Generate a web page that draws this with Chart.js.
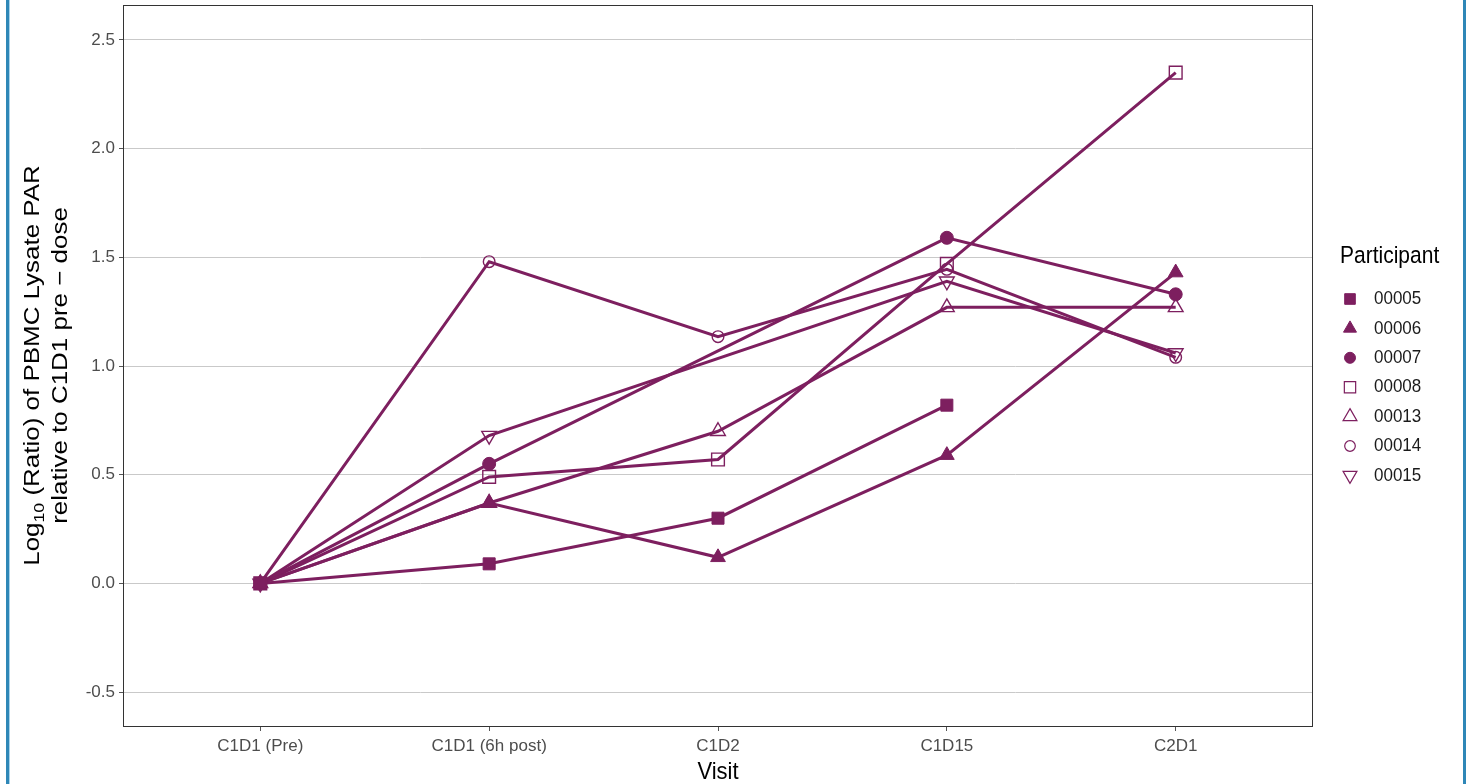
<!DOCTYPE html>
<html>
<head>
<meta charset="utf-8">
<script src="https://cdn.jsdelivr.net/npm/chart.js@4/dist/chart.umd.min.js"></script>
<style>
  html, body { margin: 0; padding: 0; background: #ffffff; overflow: hidden; }
  canvas { display: block; }
</style>
</head>
<body>
<canvas id="c" width="1466" height="784"></canvas>
<script>
// Visits along the x axis
const visits = ['C1D1 (Pre)', 'C1D1 (6h post)', 'C1D2', 'C1D15', 'C2D1'];

// Participants and their log10 ratios per visit (null = not collected)
const participants = ['00005', '00006', '00007', '00008', '00013', '00014', '00015'];
const p00005 = [0, 0.09, 0.30, 0.82, null];
const p00006 = [0, 0.37, 0.12, 0.59, 1.43];
const p00007 = [0, 0.55, null, 1.59, 1.33];
const p00008 = [0, 0.49, 0.57, 1.47, 2.35];
const p00013 = [0, 0.37, 0.70, 1.27, 1.27];
const p00014 = [0, 1.48, 1.135, 1.445, 1.04];
const p00015 = [0, 0.68, null, 1.39, 1.06];
const seriesValues = [p00005, p00006, p00007, p00008, p00013, p00014, p00015];

// Y axis tick values
const yTicks = [-0.5, 0.0, 0.5, 1.0, 1.5, 2.0, 2.5];

// Styling
const INK = '#7d1f5f';
const FONT = "'Liberation Sans', Arial, sans-serif";
const markers = [
  { style: 'rect',     filled: true,  r: 8.5, rot: 0,   lr: 7.5 },
  { style: 'triangle', filled: true,  r: 8.5, rot: 0,   lr: 7.5 },
  { style: 'circle',   filled: true,  r: 6.5, rot: 0,   lr: 5.5 },
  { style: 'rect',     filled: false, r: 9,   rot: 0,   lr: 8   },
  { style: 'triangle', filled: false, r: 8.5, rot: 0,   lr: 8   },
  { style: 'circle',   filled: false, r: 5.8, rot: 0,   lr: 5.3 },
  { style: 'triangle', filled: false, r: 8.5, rot: 180, lr: 8   }
];

function toPoints(vals) {
  const pts = [];
  vals.forEach((v, i) => { if (v !== null) pts.push({ x: i, y: v }); });
  return pts;
}

const datasets = [];
participants.forEach((name, i) => {
  // connecting line
  datasets.push({
    label: name + ' line',
    data: toPoints(seriesValues[i]),
    showLine: true,
    borderColor: INK,
    borderWidth: 3,
    pointRadius: 0,
    pointHoverRadius: 0,
    fill: false,
    tension: 0,
    order: 2
  });
});
participants.forEach((name, i) => {
  const m = markers[i];
  datasets.push({
    label: name,
    data: toPoints(seriesValues[i]),
    showLine: false,
    pointStyle: m.style,
    pointRotation: m.rot,
    pointRadius: m.r,
    pointHoverRadius: m.r,
    pointBackgroundColor: m.filled ? INK : 'rgba(0,0,0,0)',
    pointBorderColor: INK,
    pointBorderWidth: m.filled ? 1 : 1.4,
    order: 1
  });
});

// Page background, side rules and the panel frame
const framePlugin = {
  id: 'frame',
  beforeDraw(chart) {
    const ctx = chart.ctx;
    ctx.save();
    ctx.fillStyle = '#ffffff';
    ctx.fillRect(0, 0, chart.width, chart.height);
    ctx.fillStyle = '#2e87b7';
    ctx.fillRect(6, 0, 3, chart.height);
    ctx.fillRect(1463, 0, 3, chart.height);
    ctx.fillStyle = '#a9d3ea';
    ctx.fillRect(9, 0, 1, chart.height);
    ctx.restore();
  },
  afterDraw(chart) {
    const a = chart.chartArea;
    const ctx = chart.ctx;
    ctx.save();
    ctx.strokeStyle = '#333333';
    ctx.lineWidth = 1;
    ctx.strokeRect(Math.round(a.left) + 0.5, Math.round(a.top) + 0.5,
                   Math.round(a.right - a.left) - 1, Math.round(a.bottom - a.top));
    ctx.restore();
  }
};

// Axis titles (y title carries a subscript, so it is set by hand)
const titlesPlugin = {
  id: 'titles',
  afterDraw(chart) {
    const a = chart.chartArea;
    const ctx = chart.ctx;
    const cy = (a.top + a.bottom) / 2;
    const f = 22, stretch = 1.18;
    ctx.save();
    ctx.fillStyle = '#000000';
    ctx.textBaseline = 'middle';

    // line 1: Log10 (Ratio) of PBMC Lysate PAR
    const big = f + 'px ' + FONT, small = Math.round(f * 0.7) + 'px ' + FONT;
    ctx.font = big;
    const wLog = ctx.measureText('Log').width;
    const wRest = ctx.measureText(' (Ratio) of PBMC Lysate PAR').width;
    ctx.font = small;
    const wSub = ctx.measureText('10').width;
    const total = wLog + wSub + wRest;
    ctx.save();
    ctx.translate(33, cy);
    ctx.rotate(-Math.PI / 2);
    ctx.scale(stretch, 1);
    ctx.textAlign = 'left';
    const x0 = -total / 2;
    ctx.font = big;
    ctx.fillText('Log', x0, 0);
    ctx.font = small;
    ctx.fillText('10', x0 + wLog, f * 0.3);
    ctx.font = big;
    ctx.fillText(' (Ratio) of PBMC Lysate PAR', x0 + wLog + wSub, 0);
    ctx.restore();

    // line 2
    ctx.save();
    ctx.translate(61, cy);
    ctx.rotate(-Math.PI / 2);
    ctx.scale(stretch, 1);
    ctx.textAlign = 'center';
    ctx.font = big;
    ctx.fillText('relative to C1D1 pre \u2212 dose', 0, 0);
    ctx.restore();

    // x title
    ctx.save();
    ctx.translate((a.left + a.right) / 2, 772);
    ctx.scale(1, 1.12);
    ctx.textAlign = 'center';
    ctx.font = '22px ' + FONT;
    ctx.fillText('Visit', 0, 0);
    ctx.restore();
    ctx.restore();
  }
};

// Legend on the right
const legendPlugin = {
  id: 'participantLegend',
  afterDraw(chart) {
    const ctx = chart.ctx;
    ctx.save();
    ctx.fillStyle = '#000000';
    ctx.textBaseline = 'middle';
    ctx.textAlign = 'left';
    ctx.save();
    ctx.translate(1340, 257);
    ctx.scale(1, 1.12);
    ctx.font = '21px ' + FONT;
    ctx.fillText('Participant', 0, 0);
    ctx.restore();
    participants.forEach((name, i) => {
      const m = markers[i];
      const y = 299 + i * 29.4;
      ctx.save();
      ctx.fillStyle = m.filled ? INK : 'rgba(0,0,0,0)';
      ctx.strokeStyle = INK;
      ctx.lineWidth = m.filled ? 1 : 1.2;
      Chart.helpers.drawPoint(ctx, { pointStyle: m.style, rotation: m.rot, radius: m.lr, borderWidth: ctx.lineWidth }, 1350, y);
      ctx.restore();
      ctx.save();
      ctx.translate(1374, y);
      ctx.scale(1, 1.12);
      ctx.fillStyle = '#1a1a1a';
      ctx.font = '17px ' + FONT;
      ctx.fillText(name, 0, 0);
      ctx.restore();
    });
    ctx.restore();
  }
};

new Chart(document.getElementById('c'), {
  type: 'line',
  data: { datasets },
  options: {
    responsive: false,
    devicePixelRatio: 1,
    animation: false,
    events: [],
    layout: { autoPadding: false, padding: { left: 0, right: 153, top: 5, bottom: 0 } },
    plugins: { legend: { display: false }, tooltip: { enabled: false }, title: { display: false } },
    scales: {
      x: {
        type: 'linear',
        min: -0.6,
        max: 4.6,
        afterFit(s) { s.height = 58; s.paddingLeft = 0; s.paddingRight = 0; },
        afterBuildTicks(s) { s.ticks = visits.map((_, i) => ({ value: i })); },
        ticks: {
          autoSkip: false,
          maxRotation: 0,
          padding: 5,
          color: '#4d4d4d',
          font: { family: FONT, size: 17 },
          callback: (v) => visits[v]
        },
        grid: { drawOnChartArea: false, drawTicks: true, tickLength: 5, tickColor: '#555555', lineWidth: 1 },
        border: { display: false }
      },
      y: {
        type: 'linear',
        min: -0.656,
        max: 2.661,
        afterFit(s) { s.width = 123; s.paddingTop = 0; s.paddingBottom = 0; },
        afterBuildTicks(s) { s.ticks = yTicks.map(v => ({ value: v })); },
        ticks: {
          padding: 4,
          color: '#4d4d4d',
          font: { family: FONT, size: 17 },
          callback: (v) => v.toFixed(1)
        },
        grid: { color: '#c9c9c9', lineWidth: 1, drawTicks: true, tickLength: 4, tickColor: '#555555' },
        border: { display: false }
      }
    }
  },
  plugins: [framePlugin, titlesPlugin, legendPlugin]
});
</script>
</body>
</html>
